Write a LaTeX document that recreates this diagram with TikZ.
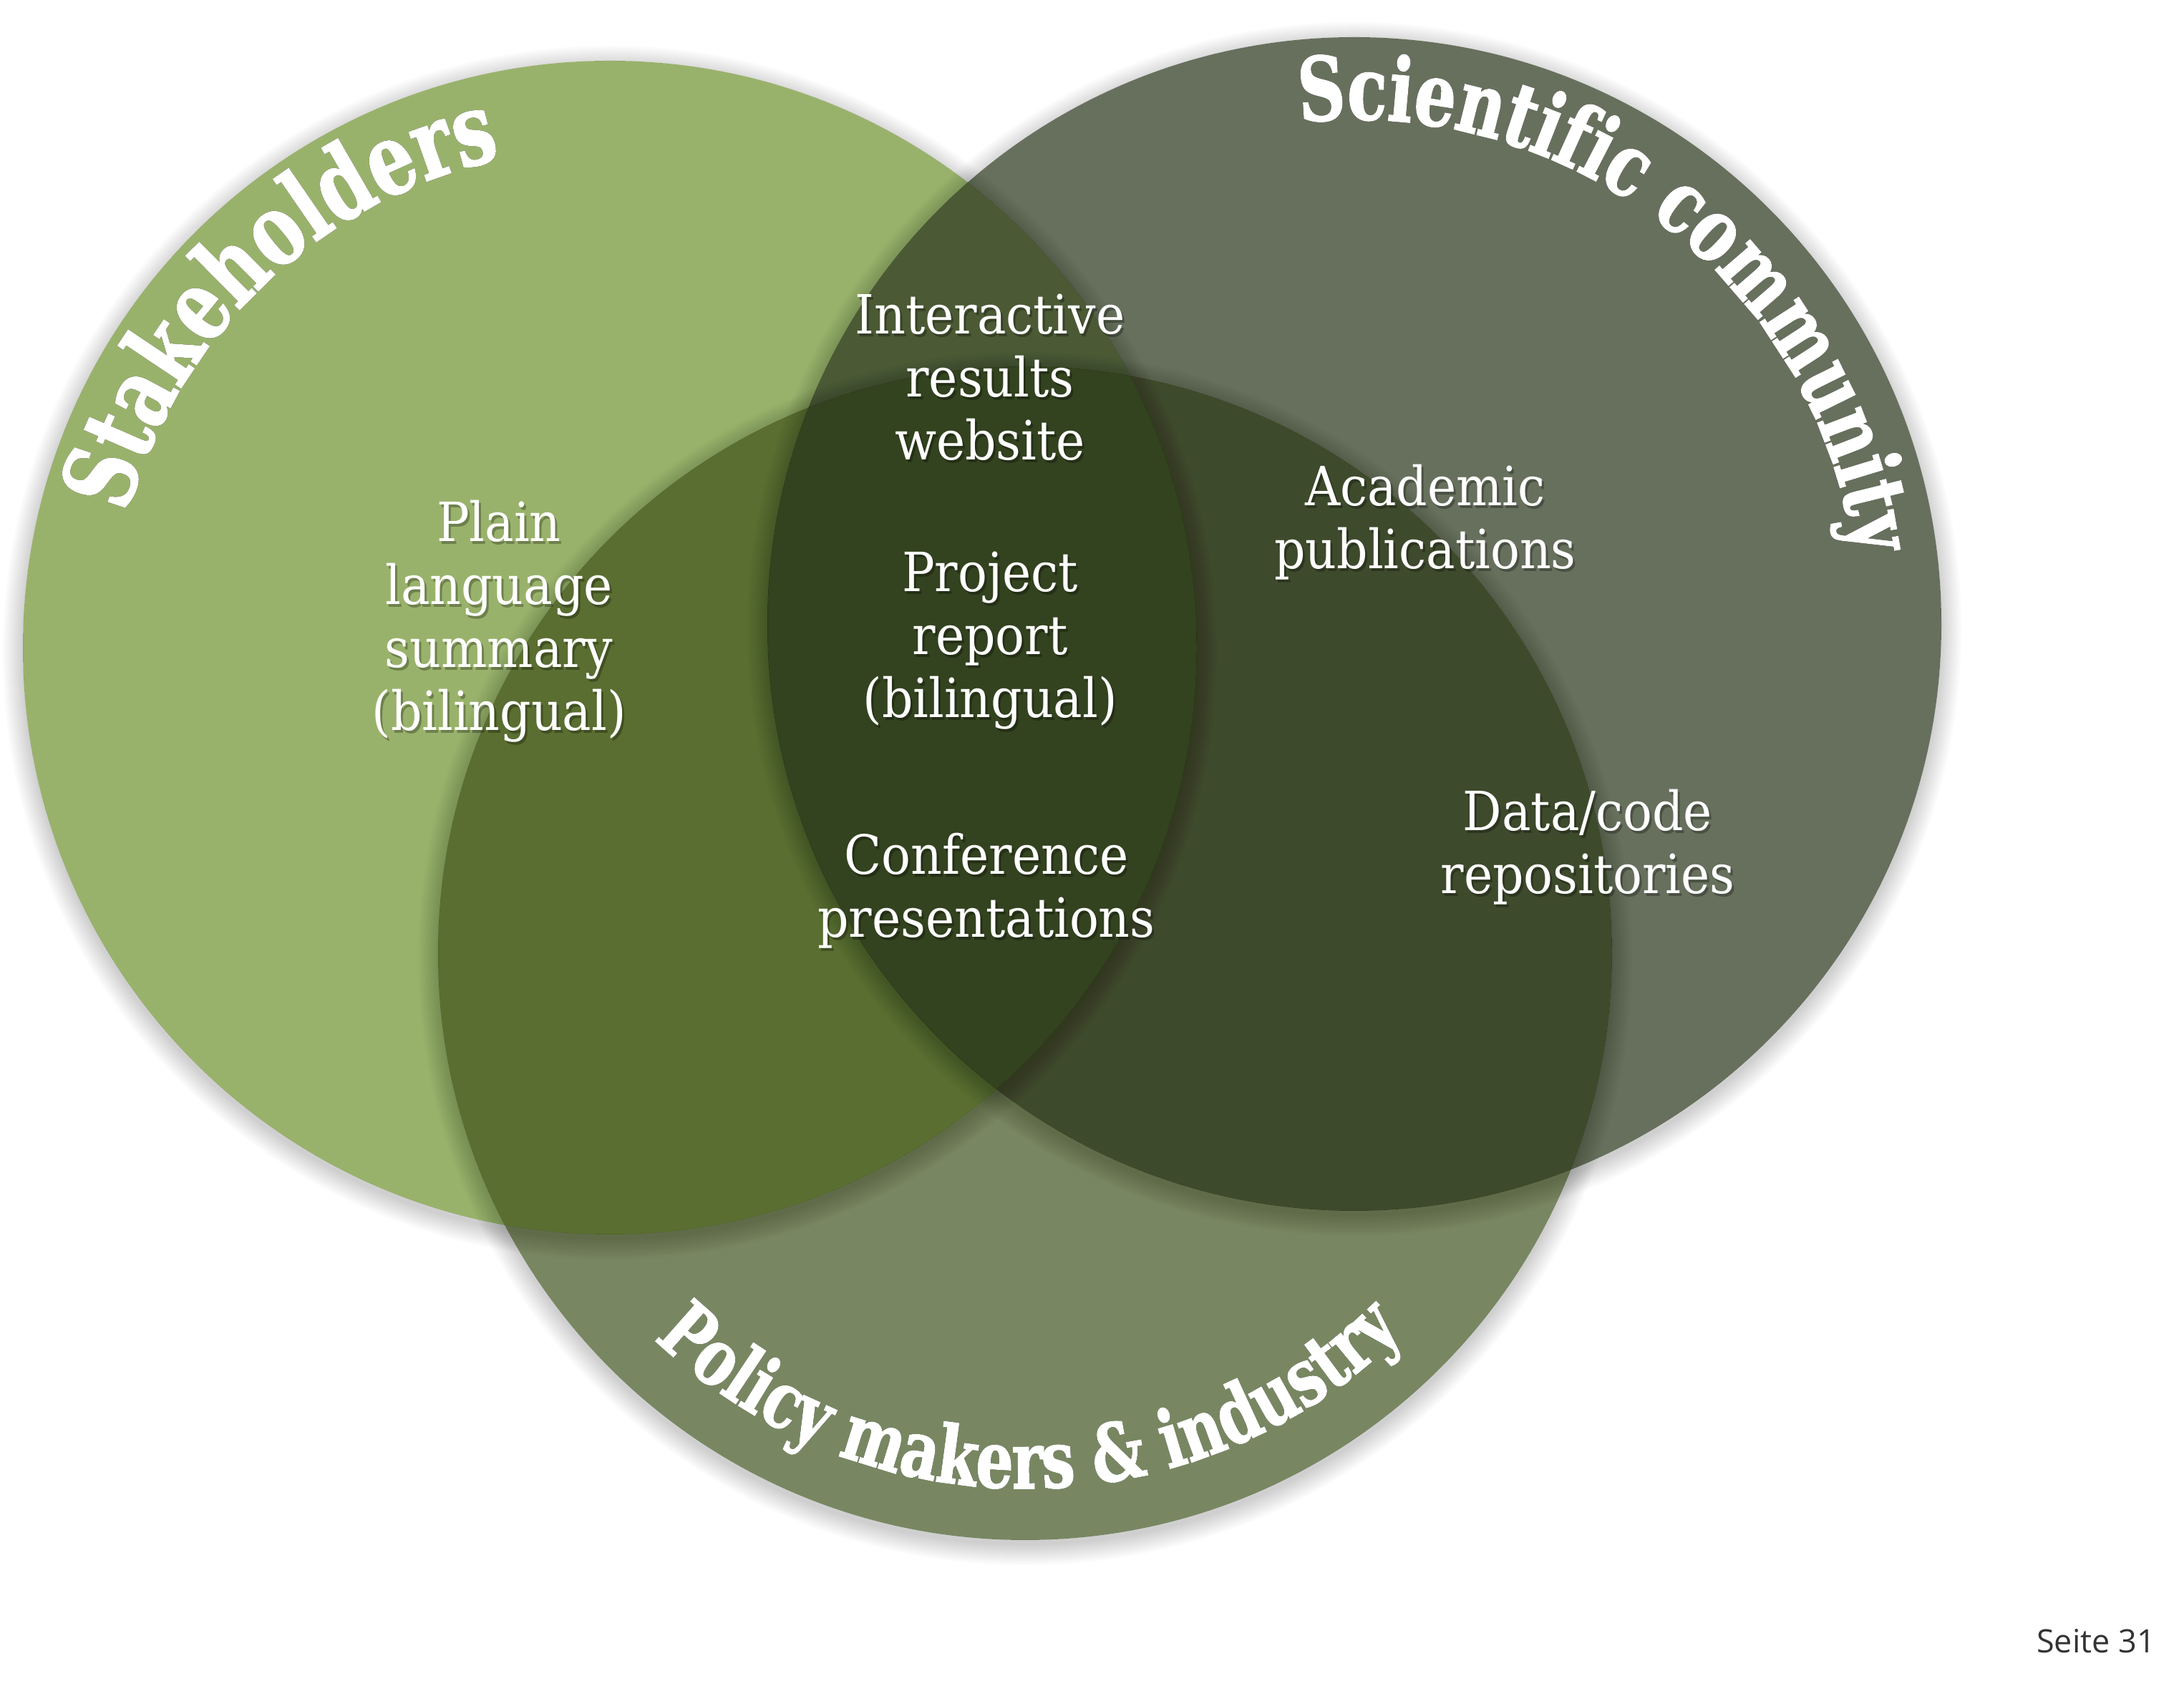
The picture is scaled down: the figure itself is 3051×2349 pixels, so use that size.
\documentclass[tikz,border=0pt]{standalone}
\usepackage{fontspec}
\usetikzlibrary{decorations.text,calc}

% type faces
\IfFontExistsTF{DejaVu Serif Condensed}
  {\newfontfamily\bodyfont{DejaVu Serif Condensed}\def\bodysize{75.5}}
  {\newfontfamily\bodyfont[FakeStretch=0.93]{DejaVu Serif}\def\bodysize{73}}
\newfontfamily\labelfont[FakeStretch=0.74,FakeBold=1.6]{DejaVu Serif}
\newfontfamily\pagefont{Open Sans}

% region colours
\definecolor{colS}{HTML}{99B26B}
\definecolor{colC}{HTML}{67705D}
\definecolor{colP}{HTML}{788761}
\definecolor{colSC}{HTML}{4B5A35}
\definecolor{colSP}{HTML}{5A6E31}
\definecolor{colCP}{HTML}{3E4A2C}
\definecolor{colSCP}{HTML}{33421F}

\begin{document}
\begin{tikzpicture}[x=1pt,y=1pt,
  bodytext/.style={align=center, text=white, inner sep=0pt,
    font=\bodyfont\fontsize{\bodysize}{88}\selectfont},
  bodyshadow/.style={bodytext, text=black, text opacity=0.28},
  arclabel/.style={decorate, decoration={text along path, text align=center,
    text color=#1, text={|\labelfont\bfseries\fontsize{\lblsize}{\lblsize}\selectfont|\lbltext}}},
  arcshadow/.style={arclabel=black, opacity=0.33, shift={(4,-5)}},
]
\useasboundingbox (0,0) rectangle (3051,2349);
\fill[white] (0,0) rectangle (3051,2349);

\def\R{820pt}
\coordinate (cS) at (852,1444);
\coordinate (cC) at (1892,1477);
\coordinate (cP) at (1432,1017);

% single-set areas
\fill[colS] (cS) circle (\R);
\fill[colC] (cC) circle (\R);
\fill[colP] (cP) circle (\R);
% pairwise overlaps
\begin{scope} \clip (cS) circle (\R); \fill[colSC] (cC) circle (\R); \end{scope}
\begin{scope} \clip (cS) circle (\R); \fill[colSP] (cP) circle (\R); \end{scope}
\begin{scope} \clip (cC) circle (\R); \fill[colCP] (cP) circle (\R); \end{scope}
% common core
\begin{scope} \clip (cS) circle (\R); \clip (cC) circle (\R); \fill[colSCP] (cP) circle (\R); \end{scope}

% soft shadows just outside each circle
\foreach \c in {cS,cC,cP} {
  \begin{scope}
    \clip (-20,-20) -- (-20,2369) -- (3071,2369) -- (3071,-20) -- cycle (\c) circle (\R);
    \foreach \k in {1,...,12}
      \fill[black, opacity=0.016] ([yshift=-7pt]\c) circle ({(818+2.5*\k)*1pt});
  \end{scope}
}

% curved set names, each with a soft drop shadow
\def\lblsize{139}\def\lbltext{Stakeholders}
\path[arcshadow] ($(cS)+(180:700pt)$) arc[start angle=180, end angle=87, radius=700pt];
\path[arclabel=white] ($(cS)+(180:700pt)$) arc[start angle=180, end angle=87, radius=700pt];

\def\lblsize{123}\def\lbltext{Scientific community}
\path[arcshadow] ($(cC)+(112:705pt)$) arc[start angle=112, end angle=-8, radius=705pt];
\path[arclabel=white] ($(cC)+(112:705pt)$) arc[start angle=112, end angle=-8, radius=705pt];

\def\lblsize{111}\def\lbltext{Policy makers {\&} industry}
\path[arcshadow] ($(cP)+(213:748pt)$) arc[start angle=213, end angle=328, radius=748pt];
\path[arclabel=white] ($(cP)+(213:748pt)$) arc[start angle=213, end angle=328, radius=748pt];

% outputs inside the regions
\node[bodyshadow] (plainsh) at (700,1477) {Plain\\language\\summary\\(bilingual)};
\node[bodytext] (plain) at (697,1481) {Plain\\language\\summary\\(bilingual)};
\node[bodyshadow] (websh) at (1386,1818) {Interactive\\results\\website};
\node[bodytext] (web) at (1383,1822) {Interactive\\results\\website};
\node[bodyshadow] (reportsh) at (1386,1450) {Project\\report\\(bilingual)};
\node[bodytext] (report) at (1383,1454) {Project\\report\\(bilingual)};
\node[bodyshadow] (confsh) at (1381,1100) {Conference\\presentations};
\node[bodytext] (conf) at (1378,1104) {Conference\\presentations};
\node[bodyshadow] (pubsh) at (1994,1615) {Academic\\publications};
\node[bodytext] (pub) at (1991,1619) {Academic\\publications};
\node[bodyshadow] (reposh) at (2221,1161) {Data/code\\repositories};
\node[bodytext] (repo) at (2218,1165) {Data/code\\repositories};

% page number
\node[anchor=base east, inner sep=0pt, text=black!80,
  font=\pagefont\fontsize{45}{50}\selectfont] (page) at (3011,39) {Seite 31};
\end{tikzpicture}
\end{document}
